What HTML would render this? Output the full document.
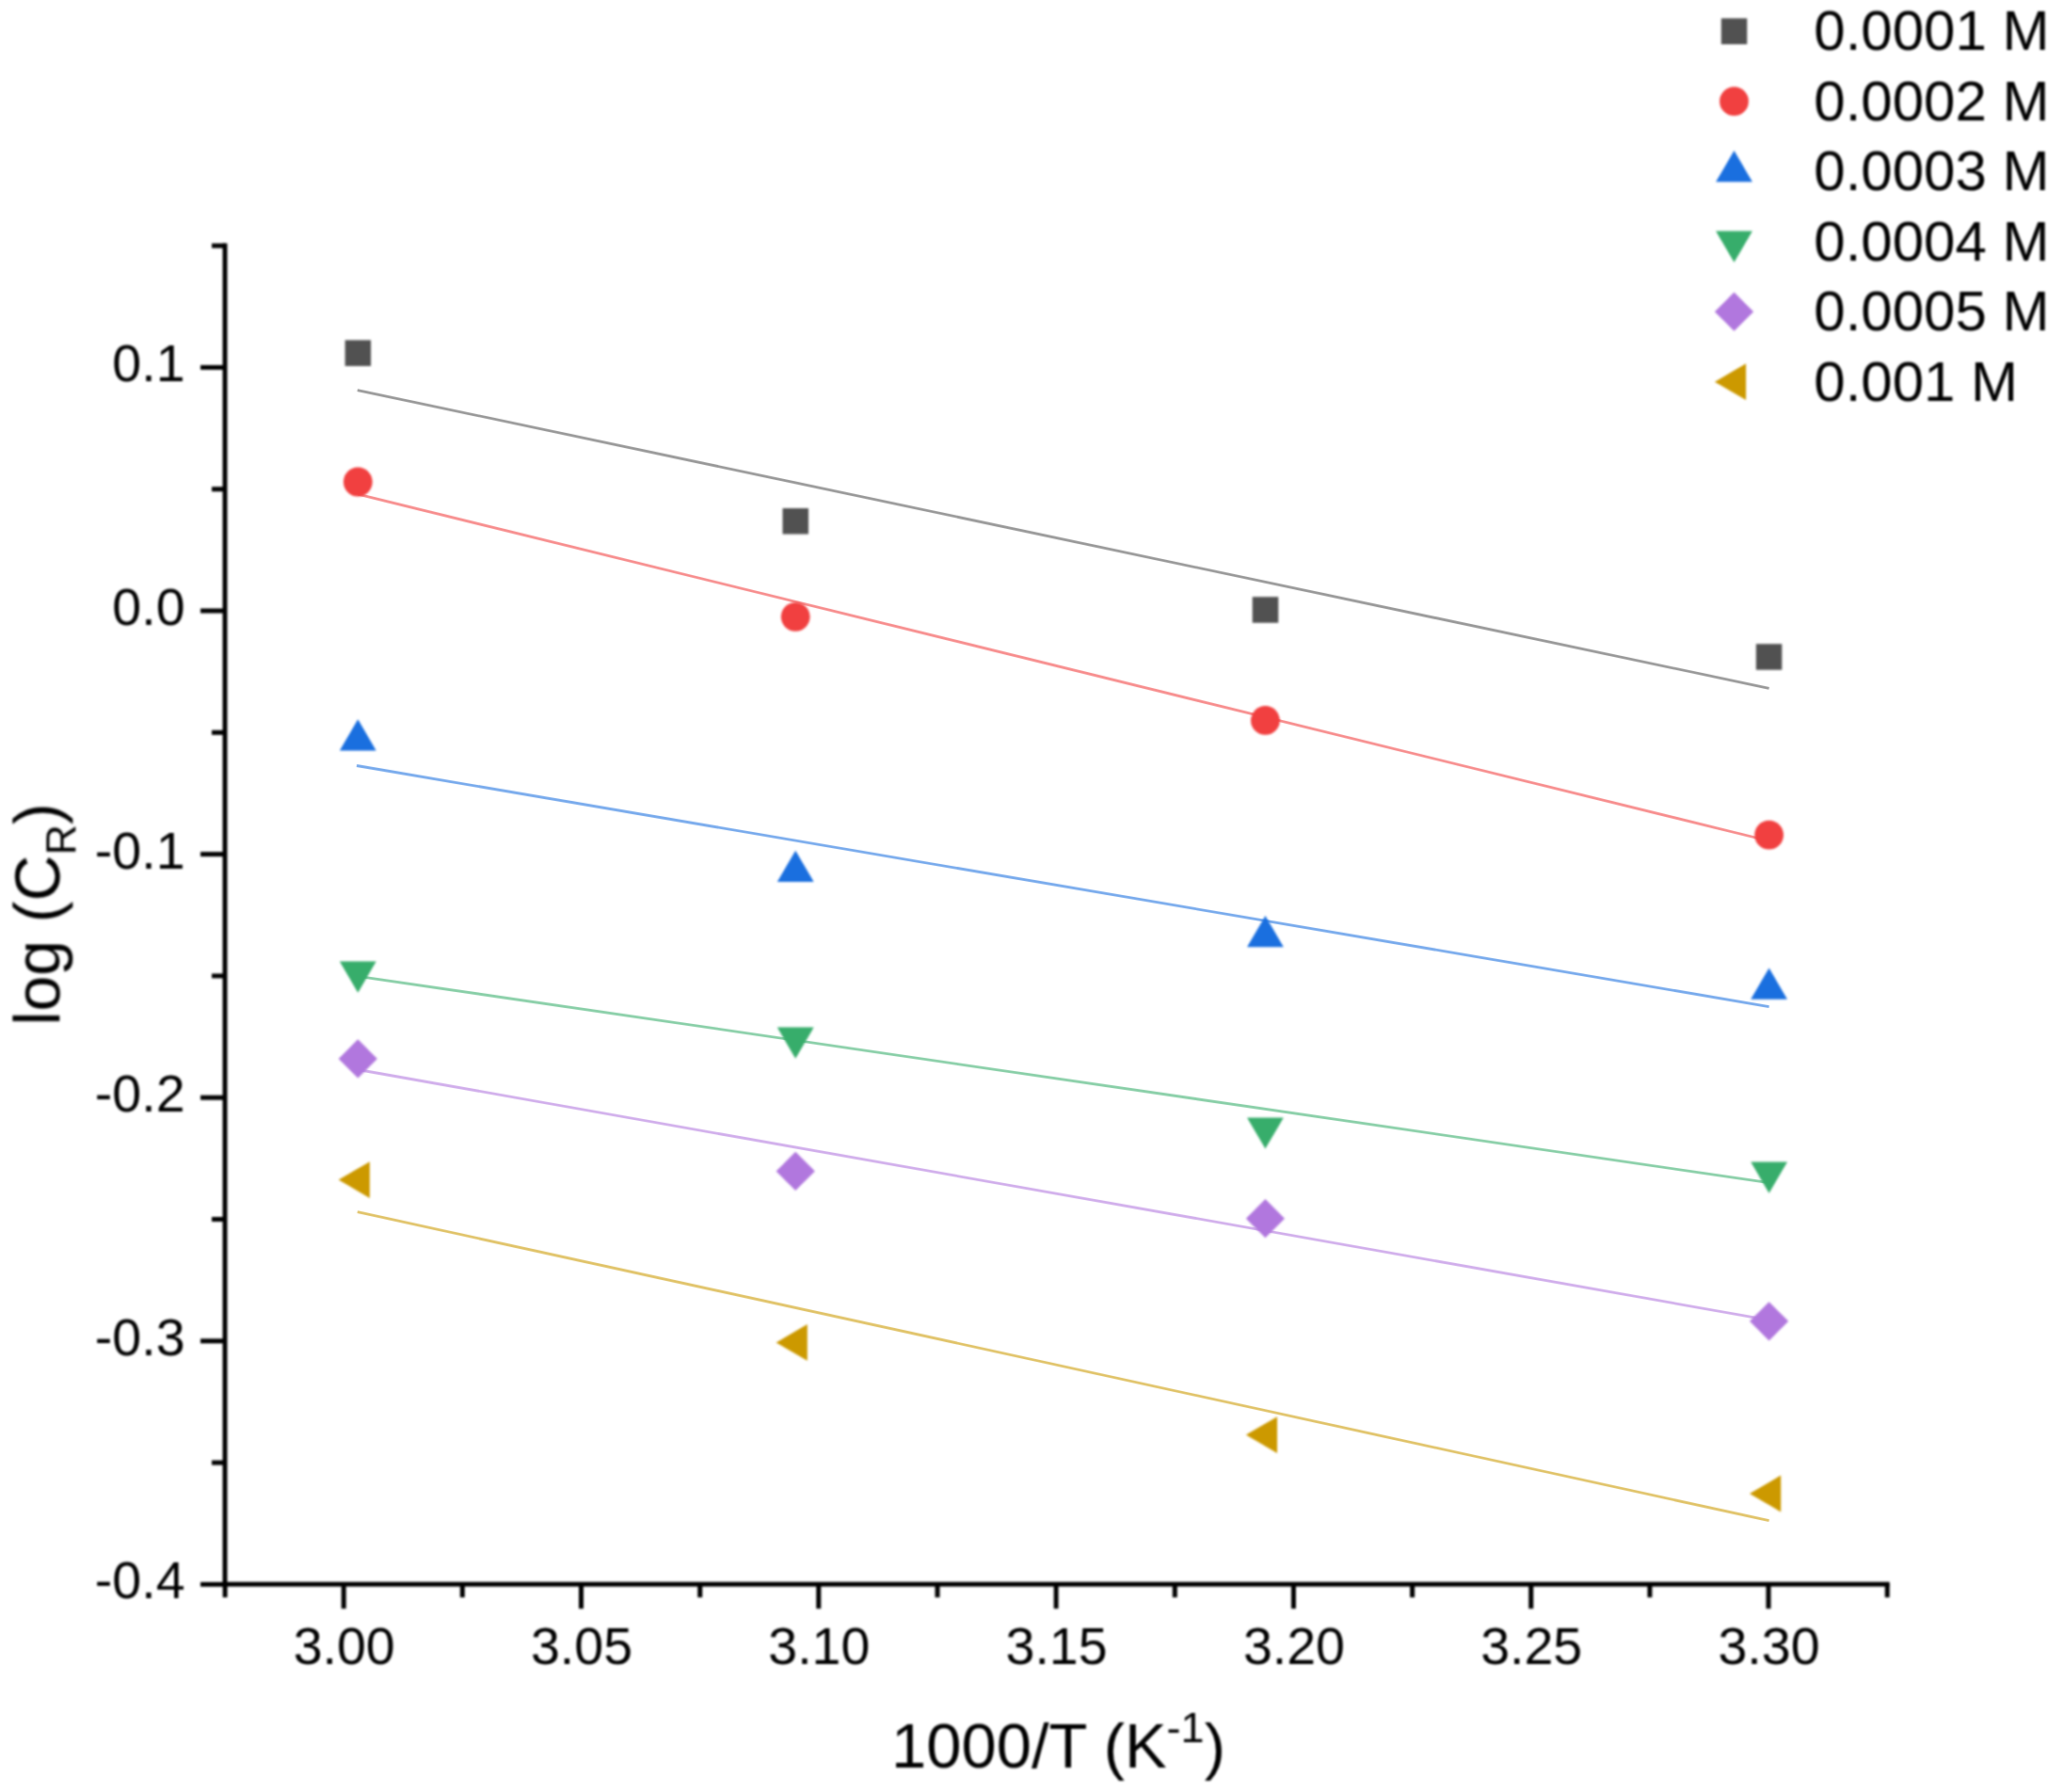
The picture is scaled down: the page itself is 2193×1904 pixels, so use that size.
<!DOCTYPE html>
<html lang="en">
<head>
<meta charset="utf-8">
<title>log (CR) vs 1000/T</title>
<style>
html,body{margin:0;padding:0;background:#fff;}
body{width:2193px;height:1904px;overflow:hidden;}
svg{display:block;}
text{font-family:"Liberation Sans",sans-serif;fill:#000;}
.tk{font-size:55.5px;}
.tt{font-size:66.9px;}
.sb{font-size:45px;}
.lg{font-size:60px;}
.ax{stroke:#000;stroke-width:5;fill:none;}
.fit{stroke-width:2.8;fill:none;stroke-opacity:.6;}
</style>
</head>
<body>
<svg width="2193" height="1904" viewBox="0 0 2193 1904">
<defs><filter id="soft" x="0" y="0" width="2193" height="1904" filterUnits="userSpaceOnUse" color-interpolation-filters="sRGB"><feGaussianBlur stdDeviation="1"/></filter></defs>
<rect width="2193" height="1904" fill="#fff"/>
<g class="fit">
<line x1="379.8" y1="414.6" x2="1879.6" y2="731.4" stroke="#515151"/>
<line x1="380.3" y1="525.1" x2="1879.6" y2="893.5" stroke="#F14040"/>
<line x1="379.0" y1="813.5" x2="1879.6" y2="1069.6" stroke="#1A6FDF"/>
<line x1="380.3" y1="1037.3" x2="1879.6" y2="1256.7" stroke="#37AD6B"/>
<line x1="380.3" y1="1136.5" x2="1879.6" y2="1402.6" stroke="#B177DE"/>
<line x1="379.8" y1="1287.7" x2="1879.6" y2="1615.7" stroke="#CC9900"/>
</g>
<g filter="url(#soft)">
<g class="ax">
<line x1="239.0" y1="258.6" x2="239.0" y2="1685.7"/>
<line x1="236.5" y1="1683.2" x2="2007.7" y2="1683.2"/>
<line x1="225.0" y1="261.1" x2="239.0" y2="261.1"/>
<line x1="213.0" y1="390.4" x2="239.0" y2="390.4"/>
<line x1="225.0" y1="519.7" x2="239.0" y2="519.7"/>
<line x1="213.0" y1="649.0" x2="239.0" y2="649.0"/>
<line x1="225.0" y1="778.3" x2="239.0" y2="778.3"/>
<line x1="213.0" y1="907.6" x2="239.0" y2="907.6"/>
<line x1="225.0" y1="1036.9" x2="239.0" y2="1036.9"/>
<line x1="213.0" y1="1166.2" x2="239.0" y2="1166.2"/>
<line x1="225.0" y1="1295.5" x2="239.0" y2="1295.5"/>
<line x1="213.0" y1="1424.8" x2="239.0" y2="1424.8"/>
<line x1="225.0" y1="1554.1" x2="239.0" y2="1554.1"/>
<line x1="213.0" y1="1683.4" x2="239.0" y2="1683.4"/>
<line x1="239.1" y1="1683.2" x2="239.1" y2="1697.2"/>
<line x1="365.2" y1="1683.2" x2="365.2" y2="1709.2"/>
<line x1="491.3" y1="1683.2" x2="491.3" y2="1697.2"/>
<line x1="617.5" y1="1683.2" x2="617.5" y2="1709.2"/>
<line x1="743.7" y1="1683.2" x2="743.7" y2="1697.2"/>
<line x1="869.8" y1="1683.2" x2="869.8" y2="1709.2"/>
<line x1="996.0" y1="1683.2" x2="996.0" y2="1697.2"/>
<line x1="1122.1" y1="1683.2" x2="1122.1" y2="1709.2"/>
<line x1="1248.3" y1="1683.2" x2="1248.3" y2="1697.2"/>
<line x1="1374.4" y1="1683.2" x2="1374.4" y2="1709.2"/>
<line x1="1500.6" y1="1683.2" x2="1500.6" y2="1697.2"/>
<line x1="1626.7" y1="1683.2" x2="1626.7" y2="1709.2"/>
<line x1="1752.9" y1="1683.2" x2="1752.9" y2="1697.2"/>
<line x1="1879.0" y1="1683.2" x2="1879.0" y2="1709.2"/>
<line x1="2005.2" y1="1683.2" x2="2005.2" y2="1697.2"/>
</g>
<g class="tk" text-anchor="end">
<text x="196.5" y="405.4">0.1</text>
<text x="196.5" y="664.0">0.0</text>
<text x="196.5" y="922.6">-0.1</text>
<text x="196.5" y="1181.2">-0.2</text>
<text x="196.5" y="1439.8">-0.3</text>
<text x="196.5" y="1698.4">-0.4</text>
</g>
<g class="tk" text-anchor="middle">
<text x="365.7" y="1768.2">3.00</text>
<text x="618.0" y="1768.2">3.05</text>
<text x="870.3" y="1768.2">3.10</text>
<text x="1122.6" y="1768.2">3.15</text>
<text x="1374.9" y="1768.2">3.20</text>
<text x="1627.2" y="1768.2">3.25</text>
<text x="1879.5" y="1768.2">3.30</text>
</g>
<text class="tt" text-anchor="middle" x="1124.5" y="1878.0">1000/T (K<tspan class="sb" dy="-27">-1</tspan><tspan dy="27">)</tspan></text>
<text class="tt" style="font-size:67.9px" text-anchor="middle" transform="translate(63.3 971.5) rotate(-90)">log (C<tspan class="sb" dy="17">R</tspan><tspan dy="-17">)</tspan></text>
<g>
<rect x="366.6" y="361.4" width="27.5" height="27.5" fill="#515151"/>
<rect x="831.5" y="540.0" width="27.5" height="27.5" fill="#515151"/>
<rect x="1330.7" y="634.2" width="27.5" height="27.5" fill="#515151"/>
<rect x="1865.8" y="684.2" width="27.5" height="27.5" fill="#515151"/>
<circle cx="380.3" cy="512.0" r="15.4" fill="#F14040"/>
<circle cx="845.2" cy="655.3" r="15.4" fill="#F14040"/>
<circle cx="1344.4" cy="765.4" r="15.4" fill="#F14040"/>
<circle cx="1879.6" cy="887.2" r="15.4" fill="#F14040"/>
<polygon points="380.3,764.3 399.7,797.5 360.9,797.5" fill="#1A6FDF"/>
<polygon points="845.2,903.7 864.6,936.9 825.8,936.9" fill="#1A6FDF"/>
<polygon points="1344.4,973.1 1363.8,1006.3 1325.0,1006.3" fill="#1A6FDF"/>
<polygon points="1879.6,1028.6 1899.0,1061.8 1860.2,1061.8" fill="#1A6FDF"/>
<polygon points="380.3,1054.7 399.7,1021.5 360.9,1021.5" fill="#37AD6B"/>
<polygon points="845.2,1124.8 864.6,1091.6 825.8,1091.6" fill="#37AD6B"/>
<polygon points="1344.4,1220.6 1363.8,1187.4 1325.0,1187.4" fill="#37AD6B"/>
<polygon points="1879.6,1267.8 1899.0,1234.6 1860.2,1234.6" fill="#37AD6B"/>
<polygon points="380.3,1104.3 400.9,1124.9 380.3,1145.5 359.7,1124.9" fill="#B177DE"/>
<polygon points="845.2,1223.8 865.8,1244.4 845.2,1265.0 824.6,1244.4" fill="#B177DE"/>
<polygon points="1344.4,1274.1 1365.0,1294.7 1344.4,1315.3 1323.8,1294.7" fill="#B177DE"/>
<polygon points="1879.6,1383.2 1900.2,1403.8 1879.6,1424.4 1859.0,1403.8" fill="#B177DE"/>
<polygon points="359.7,1253.6 392.9,1234.2 392.9,1273.0" fill="#CC9900"/>
<polygon points="824.6,1426.4 857.8,1407.0 857.8,1445.8" fill="#CC9900"/>
<polygon points="1323.8,1524.6 1357.0,1505.2 1357.0,1544.0" fill="#CC9900"/>
<polygon points="1859.0,1587.0 1892.2,1567.6 1892.2,1606.4" fill="#CC9900"/>
</g>
<g>
<rect x="1828.8" y="19.5" width="27.5" height="27.5" fill="#515151"/>
<circle cx="1842.5" cy="107.7" r="15.4" fill="#F14040"/>
<polygon points="1842.5,160.1 1861.9,193.3 1823.1,193.3" fill="#1A6FDF"/>
<polygon points="1842.5,278.8 1861.9,245.6 1823.1,245.6" fill="#37AD6B"/>
<polygon points="1842.5,310.6 1863.1,331.2 1842.5,351.8 1821.9,331.2" fill="#B177DE"/>
<polygon points="1821.9,405.7 1855.1,386.3 1855.1,425.1" fill="#CC9900"/>
<text class="lg" x="1927.3" y="53.2">0.0001 M</text>
<text class="lg" x="1927.3" y="127.7">0.0002 M</text>
<text class="lg" x="1927.3" y="202.2">0.0003 M</text>
<text class="lg" x="1927.3" y="276.7">0.0004 M</text>
<text class="lg" x="1927.3" y="351.2">0.0005 M</text>
<text class="lg" x="1927.3" y="425.7">0.001 M</text>
</g>
</g>
</svg>
</body>
</html>
